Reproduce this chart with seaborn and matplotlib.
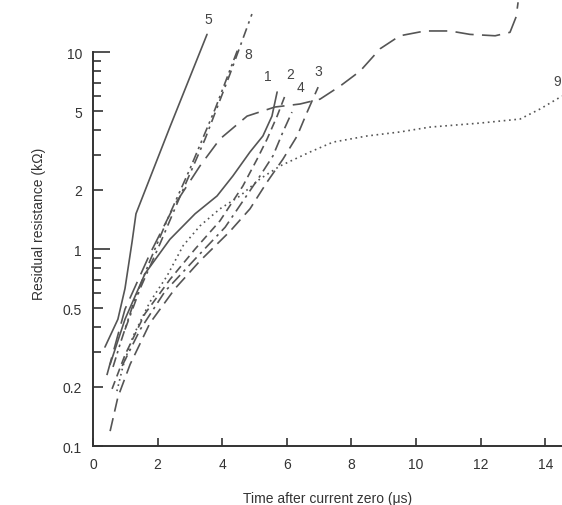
import pandas as pd
import seaborn as sns
import matplotlib.pyplot as plt
from matplotlib.ticker import NullFormatter

# Curve data (time in us, resistance in kOhm)
t1 = [0.53, 0.99, 1.61, 2.38, 3.16, 3.84, 4.33, 4.86, 5.26, 5.54, 5.70]
r1 = [0.26, 0.44, 0.75, 1.12, 1.51, 1.86, 2.35, 3.11, 3.75, 4.73, 6.27]

t2 = [0.59, 0.99, 1.61, 2.38, 3.16, 3.93, 4.64, 5.08, 5.39, 5.70, 5.94]
r2 = [0.195, 0.29, 0.47, 0.70, 1.00, 1.39, 2.09, 2.86, 3.62, 4.73, 5.98]

t3 = [0.53, 0.77, 1.15, 1.76, 2.54, 3.31, 4.24, 4.86, 5.39, 5.88, 6.32, 6.63, 6.97]
r3 = [0.119, 0.177, 0.26, 0.42, 0.63, 0.87, 1.23, 1.60, 2.19, 2.86, 3.75, 4.96, 6.64]

t4 = [0.90, 1.46, 2.23, 3.16, 4.09, 5.17, 5.57, 5.88, 6.16]
r4 = [0.255, 0.39, 0.61, 0.89, 1.29, 2.35, 2.97, 3.93, 4.96]

t5 = [0.37, 0.77, 0.99, 1.21, 1.33, 2.38, 3.53]
r5 = [0.318, 0.44, 0.63, 1.09, 1.51, 4.16, 12.3]

t6 = [0.43, 0.99, 1.76, 2.54, 3.31, 3.93, 4.77, 5.63, 6.41, 7.03, 7.65, 8.27,
      8.89, 9.50, 10.28, 11.05, 11.67, 12.45, 12.91, 13.10, 13.16]
r6 = [0.229, 0.495, 0.944, 1.69, 2.64, 3.62, 4.73, 5.26, 5.45, 5.77, 6.72, 8.01,
      10.4, 12.1, 12.8, 12.8, 12.3, 12.1, 12.6, 15.1, 17.9]

t7 = [0.99, 1.46, 2.07, 2.69, 3.47, 4.24, 4.92]
r7 = [0.39, 0.63, 1.06, 1.84, 3.62, 7.73, 15.6]

t8 = [0.62, 0.84, 1.30, 1.76, 2.38, 3.00, 3.78, 4.49]
r8 = [0.252, 0.33, 0.56, 0.87, 1.51, 2.55, 5.14, 10.4]

t9 = [0.74, 0.93, 1.24, 1.76, 2.29, 2.79, 3.31, 3.93, 4.55, 5.17, 5.79, 6.72,
      7.43, 8.48, 9.50, 10.43, 11.98, 13.22, 13.84, 14.52]
r9 = [0.190, 0.255, 0.361, 0.538, 0.729, 1.04, 1.31, 1.60, 1.86, 2.27, 2.64, 3.11,
      3.49, 3.75, 3.93, 4.16, 4.36, 4.57, 5.14, 5.98]

curves = {'1': (t1, r1), '2': (t2, r2), '3': (t3, r3), '4': (t4, r4), '5': (t5, r5),
          '6': (t6, r6), '7': (t7, r7), '8': (t8, r8), '9': (t9, r9)}

styles = {'1': '-', '2': (0, (5, 3)), '3': (0, (8, 4)), '4': (0, (7, 3, 1.5, 3)),
          '5': '-', '6': (0, (11, 5)), '7': (0, (6, 3, 1.5, 3)),
          '8': (0, (6, 2.5, 1.5, 2.5, 1.5, 2.5)), '9': (0, (1, 2.2))}

# curve labels and where they sit
label_names = ['5', '8', '1', '2', '4', '3', '9']
label_t = [3.56, 4.80, 5.42, 6.10, 6.41, 6.97, 14.37]
label_r = [14.7, 9.77, 7.55, 7.73, 6.64, 8.0, 7.13]

yticks = [0.1, 0.2, 0.5, 1, 2, 5, 10]
ytick_labels = ['0.1', '0.2', '0.5', '1', '2', '5', '10']
xticks = [0, 2, 4, 6, 8, 10, 12, 14]

sns.set_style('ticks')
plt.rcParams['font.family'] = ['Liberation Sans Narrow', 'Liberation Sans', 'DejaVu Sans']

ink = '#555555'
fig = plt.figure(figsize=(5.62, 5.06), dpi=100)
ax = fig.add_axes([0.1655, 0.1166, 0.8345, 0.8834])

for name, (t, r) in curves.items():
    df = pd.DataFrame({'t': t, 'r': r})
    sns.lineplot(data=df, x='t', y='r', ax=ax, sort=False, color=ink,
                 lw=1.2, linestyle=styles[name], clip_on=False)

ax.set_yscale('log')
ax.set_xlim(0, 14.52)
ax.set_ylim(0.1, 18.6)

for name, t, r in zip(label_names, label_t, label_r):
    ax.text(t, r, name, fontsize=10, color='#444444', ha='center', va='center',
            clip_on=False)

# axes look like the scanned original
sns.despine(ax=ax)
ax.spines['left'].set_bounds(0.1, 10)
ax.spines['left'].set_color('#333333')
ax.spines['bottom'].set_color('#333333')
ax.spines['left'].set_linewidth(1.4)
ax.spines['bottom'].set_linewidth(1.4)

ax.set_yticks(yticks)
ax.set_yticklabels(ytick_labels)
ax.set_yticks([0.3, 0.4, 0.6, 0.7, 0.8, 0.9, 3, 4, 6, 7, 8, 9], minor=True)
ax.yaxis.set_minor_formatter(NullFormatter())
ax.tick_params(axis='y', which='both', direction='in', color='#333333', width=1.2,
               labelsize=10, labelcolor='#333333', pad=8)
ax.tick_params(axis='y', which='major', length=7)
ax.tick_params(axis='y', which='minor', length=6)
for tk, v in zip(ax.yaxis.get_major_ticks(), yticks):
    if v in (1, 10):
        tk.tick1line.set_markersize(12)

ax.set_xticks(xticks)
ax.set_xticklabels([str(v) for v in xticks])
ax.tick_params(axis='x', direction='in', length=6, width=1.2, color='#333333',
               labelsize=10, labelcolor='#333333', pad=8)

ax.set_xlabel('Time after current zero (\u03bcs)', fontsize=10, color='#333333', labelpad=14)
ax.set_ylabel('Residual resistance (k\u03a9)', fontsize=10, color='#333333', labelpad=12)

fig.savefig('out.png', dpi=100)
